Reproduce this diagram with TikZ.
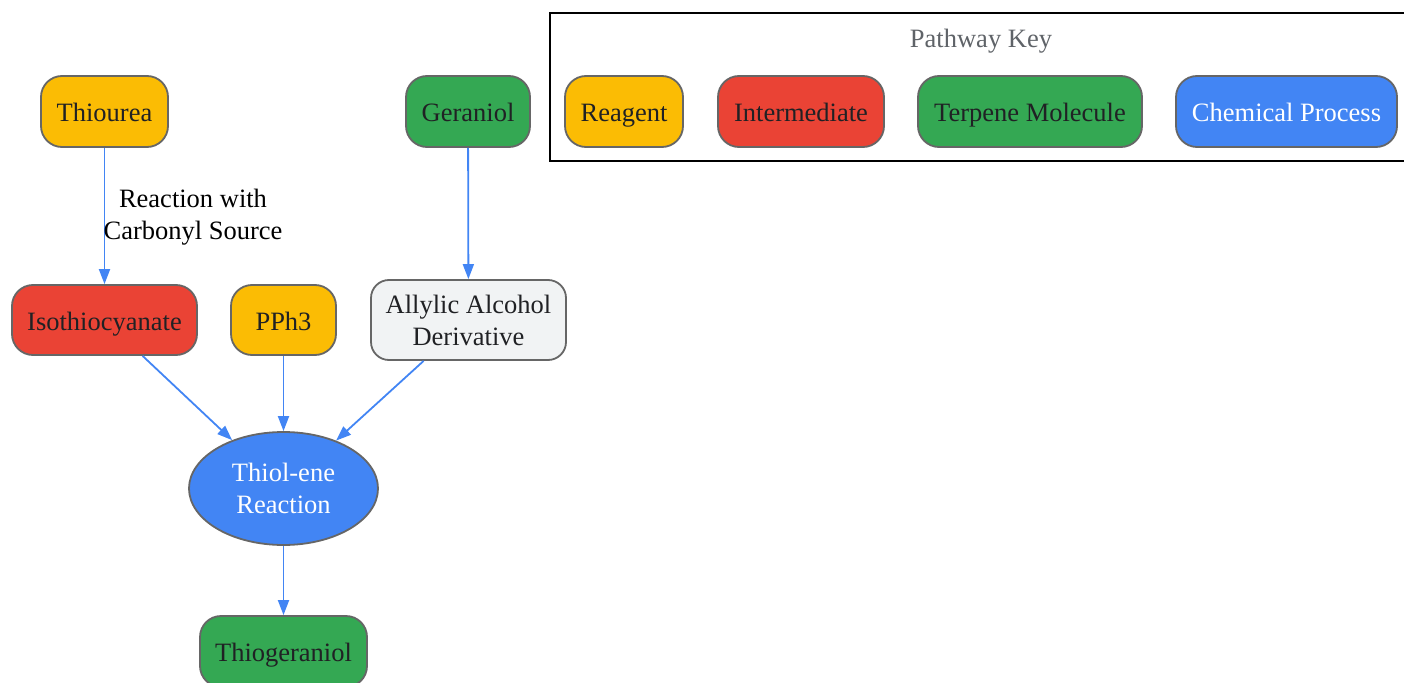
\documentclass[tikz,border=0pt]{standalone}
\usepackage{fontspec}
\setmainfont{Liberation Serif}
\usetikzlibrary{arrows.meta,shapes.geometric}
\definecolor{cyellow}{HTML}{FBBC04}
\definecolor{cred}{HTML}{EA4335}
\definecolor{cgreen}{HTML}{34A853}
\definecolor{cblue}{HTML}{4285F4}
\definecolor{cgrey}{HTML}{F1F3F4}
\definecolor{cborder}{HTML}{666666}
\definecolor{ctext}{HTML}{202124}
\definecolor{ctitle}{HTML}{5F6368}
\tikzset{
  base/.style={draw=cborder, line width=1.8pt, text=ctext, align=center, inner sep=0pt,
    font=\fontsize{26.5}{32}\selectfont},
  oneline/.style={text height=26pt, text depth=6pt},
  pill/.style={base, oneline, rectangle, rounded corners=21pt, minimum height=71pt},
  reagent/.style={pill, fill=cyellow},
  interm/.style={pill, fill=cred},
  terpene/.style={pill, fill=cgreen},
  deriv/.style={base, rectangle, rounded corners=18pt, fill=cgrey, minimum height=80pt, minimum width=195pt},
  process/.style={base, fill=cblue, text=white},
  conn/.style={draw=cblue, line width=1.8pt, -{Triangle[length=15pt,width=11pt]}},
  lbl/.style={align=center, text=black, font=\fontsize{26.5}{32}\selectfont}
}
\begin{document}
\begin{tikzpicture}[x=1pt,y=-1pt]
\useasboundingbox (0,0) rectangle (1404,682);
% legend
\draw[black, line width=2pt] (550,13) rectangle (1420,161);
\node[text=ctitle, oneline, inner sep=0pt, font=\fontsize{26.5}{32}\selectfont] (keytitle) at (981,38) {Pathway Key};
\node[reagent, minimum width=118pt] (kreag) at (624,111.5) {Reagent};
\node[interm, minimum width=166pt] (kint) at (801,111.5) {Intermediate};
\node[terpene, minimum width=224pt] (kterp) at (1030,111.5) {Terpene Molecule};
\node[pill, fill=cblue, text=white, minimum width=221pt] (kproc) at (1286.5,111.5) {Chemical Process};
% main nodes
\node[reagent, minimum width=127pt] (thiourea) at (104.5,111.5) {Thiourea};
\node[terpene, minimum width=124pt] (geraniol) at (468,111.5) {Geraniol};
\node[interm, minimum width=185pt, minimum height=70pt] (iso) at (104.5,320) {Isothiocyanate};
\node[reagent, minimum width=105pt, minimum height=70pt] (pph) at (283.5,320) {PPh3};
\node[deriv] (allyl) at (468.5,320) {Allylic Alcohol\\Derivative};
\node[process, ellipse, minimum width=189pt, minimum height=113pt] (thiol) at (283.5,488.5) {Thiol-ene\\Reaction};
\node[terpene, minimum width=167pt] (thiog) at (283.5,651.5) {Thiogeraniol};
% connectors
\draw[conn] (thiourea) -- node[lbl, midway, xshift=88.5pt, yshift=-1pt] (rlbl) {Reaction with\\Carbonyl Source} (iso);
\draw[conn] (geraniol) -- (allyl);
\draw[conn] (iso) -- (thiol);
\draw[conn] (pph) -- (thiol);
\draw[conn] (allyl) -- (thiol);
\draw[conn] (thiol) -- (thiog);
\end{tikzpicture}
\end{document}
